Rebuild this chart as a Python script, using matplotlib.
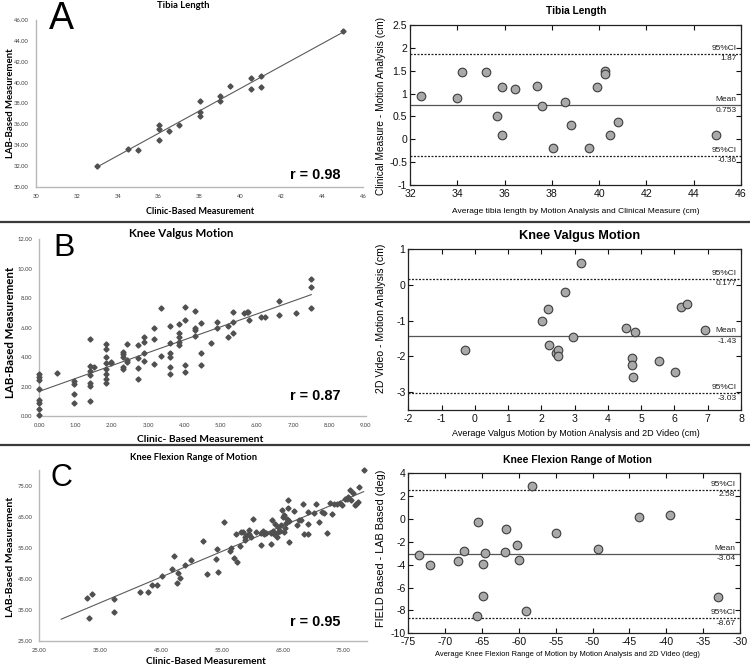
import numpy as np
import matplotlib
matplotlib.use('Agg')
import matplotlib.pyplot as plt
from matplotlib.lines import Line2D
from matplotlib.ticker import FuncFormatter, FixedLocator
from matplotlib import font_manager

plt.rcParams['axes.unicode_minus'] = False

# ------------------------------------------------------------------ data
# Panel A - Tibia length (scatter)
tibia_clinic = [33.0, 34.5, 35.0, 36.0, 36.0, 36.0, 36.5, 37.0, 38.0, 38.0, 38.0,
                39.0, 39.0, 39.5, 40.5, 40.5, 41.0, 41.0, 45.0]
tibia_lab = [32.0, 33.6, 33.5, 35.9, 35.5, 34.5, 35.3, 35.9, 38.2, 37.2, 36.8,
             38.7, 38.2, 39.7, 40.4, 39.4, 40.6, 39.6, 44.9]
tibia_r = 0.98

# Panel A - Tibia length (Bland-Altman)
tibia_avg = [32.46, 33.99, 34.22, 35.23, 35.70, 35.88, 35.88, 36.42, 37.37, 37.60,
             38.06, 38.55, 38.82, 39.57, 39.91, 40.23, 40.23, 40.44, 40.79, 44.94]
tibia_diff = [0.94, 0.91, 1.47, 1.47, 0.50, 1.14, 0.10, 1.09, 1.17, 0.73,
              -0.20, 0.82, 0.31, -0.20, 1.14, 1.49, 1.43, 0.09, 0.37, 0.10]
tibia_mean, tibia_lo, tibia_hi = 0.753, -0.36, 1.87

# Panel B - Knee valgus motion (scatter)
valgus_clinic = [0, 0, 0, 0, 0, 0, 0, 0,
                 0.5,
                 0.95, 0.95, 0.95, 0.95,
                 1.4, 1.4, 1.4, 1.4, 1.4, 1.4, 1.4, 1.5,
                 1.85, 1.85, 1.85, 1.85, 1.85, 1.85, 1.85, 1.85,
                 1.97, 1.97,
                 2.3, 2.3, 2.3, 2.3, 2.3,
                 2.42, 2.42, 2.42,
                 2.72, 2.72, 2.72, 2.72,
                 2.9, 2.9, 2.9, 2.9,
                 3.15, 3.15, 3.15,
                 3.35, 3.35,
                 3.6, 3.6, 3.6, 3.6, 3.6, 3.6,
                 3.85, 3.85, 3.85, 3.85, 3.85,
                 4.02, 4.02, 4.02, 4.02,
                 4.28, 4.28, 4.28, 4.28,
                 4.47, 4.47, 4.47,
                 4.73,
                 4.89, 4.89,
                 5.19, 5.19,
                 5.35, 5.35, 5.35,
                 5.65, 5.72, 5.76, 5.78,
                 6.11, 6.22,
                 6.62, 6.62,
                 7.08,
                 7.5, 7.5, 7.5]
valgus_lab = [2.85, 2.65, 2.45, 1.8, 1.1, 0.9, 0.5, 0.05,
              2.95,
              2.4, 2.2, 1.5, 0.9,
              5.25, 3.42, 3.06, 2.76, 2.26, 2.04, 1.0, 3.3,
              4.87, 4.53, 3.99, 3.58, 3.19, 2.83, 2.49, 2.26,
              3.7, 3.6,
              4.35, 4.2, 4.0, 3.35, 3.2,
              4.87, 3.82, 3.68,
              4.85, 3.95, 3.25, 2.49,
              5.35, 5.05, 4.3, 3.76,
              6.0, 5.25, 3.5,
              7.36, 4.08,
              6.1, 4.95, 4.3, 4.0, 3.35, 2.85,
              6.25, 5.65, 5.35, 5.0, 4.85,
              7.43, 6.52, 3.46, 3.01,
              7.13, 5.95, 5.84, 5.44,
              6.29, 4.3, 3.45,
              4.99,
              6.36, 6.0,
              6.11, 5.39,
              7.09, 6.41, 5.61,
              6.97, 7.09, 7.09, 6.52,
              6.70, 6.70,
              7.79, 6.86,
              6.97,
              9.31, 8.74, 7.31]
valgus_r = 0.87

# Panel B - Knee valgus motion (Bland-Altman)
valgus_avg = [-0.29, 2.01, 2.19, 2.24, 2.44, 2.49, 2.49, 2.71, 2.95, 3.20,
              4.53, 4.73, 4.73, 4.75, 4.81, 5.53, 6.03, 6.21, 6.38, 6.92]
valgus_diff = [-1.82, -1.02, -0.66, -1.68, -1.92, -1.82, -1.99, -0.21, -1.47, 0.61,
               -1.21, -2.06, -2.24, -2.59, -1.33, -2.13, -2.43, -0.61, -0.54, -1.26]
valgus_mean, valgus_lo, valgus_hi = -1.43, -3.03, 0.177

# Panel C - Knee flexion range of motion (scatter)
flex_clinic = [32.9, 33.6, 33.2, 37.2, 37.3, 41.6, 42.8, 43.5, 44.3, 45.1, 46.8, 47.1,
               47.8, 47.6, 48.2, 49.0, 49.9,
               51.9, 52.5, 54.2, 54.3, 54.0, 55.3, 56.3, 56.5, 57.0, 57.5, 57.9, 57.3,
               58.1, 58.4, 58.8, 58.8, 59.2, 59.5, 59.5, 59.8, 60.1, 60.6, 61.5, 61.5,
               61.8, 61.9, 62.3, 63.0, 63.1, 63.3, 63.4, 63.6, 63.8, 64.0, 64.2, 64.2,
               64.6, 64.7, 64.9, 65.0, 65.2, 65.2, 65.3, 65.5, 65.8, 65.8, 66.0, 65.7,
               66.0, 66.9, 67.4, 67.7, 68.0, 68.3, 68.5, 69.1, 69.2, 69.1, 70.1, 70.5,
               70.9, 71.4, 71.8, 72.2, 72.8, 73.1, 73.5, 73.9,
               74.45, 74.7, 75.2, 75.6, 75.8, 76.1, 76.3, 76.5, 76.8, 77.0, 77.4, 77.6,
               78.3]
flex_lab = [38.6, 40.1, 32.2, 38.5, 34.2, 40.8, 40.8, 43.0, 43.0, 46.0, 48.1, 52.2,
            46.8, 43.6, 45.2, 49.3, 51.1,
            57.0, 46.5, 54.4, 47.2, 51.4, 63.3, 53.8, 54.9, 51.8, 50.4, 55.4, 59.5,
            60.0, 60.0, 57.3, 58.5, 58.9, 59.3, 60.6, 58.4, 64.2, 60.0, 55.7, 59.8,
            60.5, 59.3, 59.8, 56.0, 59.8, 63.8, 60.5, 59.4, 62.7, 58.4, 61.6, 60.0,
            60.5, 62.2, 67.0, 64.8, 65.4, 60.0, 61.4, 62.9, 70.2, 67.7, 56.8, 64.3,
            63.5, 66.8, 62.3, 64.0, 63.9, 69.2, 59.5, 59.5, 66.6, 62.5, 66.3, 68.9,
            63.4, 66.4, 66.1, 59.7, 69.5, 65.9, 69.1, 69.1,
            69.5, 68.7, 70.6, 70.8, 71.3, 73.6, 70.4, 72.5, 68.7, 69.1, 69.8, 74.4,
            80.0]
flex_r = 0.95

# Panel C - Knee flexion range of motion (Bland-Altman)
flex_avg = [-73.57, -72.10, -68.32, -67.38, -65.51, -65.64, -64.88, -64.80, -64.62, -61.90,
            -61.72, -60.21, -59.94, -59.09, -58.20, -54.95, -49.29, -43.72, -39.53, -33.02]
flex_diff = [-3.14, -4.02, -3.64, -2.82, -0.26, -8.45, -3.96, -6.73, -2.94, -2.88,
             -0.90, -2.24, -3.55, -8.01, 2.92, -1.25, -2.59, 0.21, 0.33, -6.79]
flex_mean, flex_lo, flex_hi = -3.04, -8.67, 2.58

# ------------------------------------------------------------------ fonts
avail = {f.name for f in font_manager.fontManager.ttflist}
NARROW = ['Liberation Sans Narrow', 'Liberation Sans', 'DejaVu Sans'] \
    if 'Liberation Sans Narrow' in avail else ['Liberation Sans', 'DejaVu Sans']
EXCEL = ['Lato', 'DejaVu Sans']
ARIAL = ['Liberation Sans', 'DejaVu Sans']

# ------------------------------------------------------------------ figure
W, H = 750, 669
fig = plt.figure(figsize=(W / 100, H / 100), dpi=100)
fig.patch.set_facecolor('white')

to_fit = []


def ax_px(x0, x1, ytop, ybot):
    return fig.add_axes([x0 / W, 1 - ybot / H, (x1 - x0) / W, (ybot - ytop) / H])


def ftext(x, y, s, target=None, rot=0, **kw):
    t = fig.text(x / W, 1 - y / H, s, ha='center', va='center', rotation=rot, **kw)
    if target:
        to_fit.append((t, target, rot))
    return t


def ticks(lo, hi, step):
    """Ticks at multiples of step inside [lo, hi] (MATLAB style)."""
    start = np.ceil(lo / step - 1e-9) * step
    return np.arange(start, hi + step * 0.01, step) + 0.0


def xl_ticks(lo, hi, step):
    """Ticks starting at the axis minimum (Excel style)."""
    return np.arange(lo, hi + step * 0.01, step) + 0.0


def excel_scatter(pos, x, y, xlim, ylim, xt, yt, xfmt, yfmt, backcast=0.0):
    ax = ax_px(*pos)
    x = np.asarray(x, float)
    y = np.asarray(y, float)
    coef = np.polyfit(x, y, 1)
    xs = np.array([x.min() - backcast, x.max()])
    ax.plot(xs, np.polyval(coef, xs), color='#5a5a5a', lw=0.8, zorder=2)
    ax.plot(x, y, 'D', ms=2.6, color='#505050', mec='#505050', zorder=3, clip_on=False)
    ax.set_xlim(*xlim)
    ax.set_ylim(*ylim)
    ax.xaxis.set_major_locator(FixedLocator(xt))
    ax.yaxis.set_major_locator(FixedLocator(yt))
    ax.xaxis.set_major_formatter(FuncFormatter(lambda v, p: format(v + 0.0, xfmt)))
    ax.yaxis.set_major_formatter(FuncFormatter(lambda v, p: format(v + 0.0, yfmt)))
    for s in ('top', 'right'):
        ax.spines[s].set_visible(False)
    for s in ('left', 'bottom'):
        ax.spines[s].set_color('#b8b8b8')
        ax.spines[s].set_linewidth(1.0)
    ax.tick_params(length=0, labelsize=4.2, labelcolor='#404040', pad=5)
    for lab in ax.get_xticklabels() + ax.get_yticklabels():
        lab.set_family(EXCEL)
    ax.patch.set_alpha(0)
    return ax


def gfmt(v, p):
    return '%g' % (round(v, 6) + 0.0)


def bland_altman(pos, x, y, mean, lo, hi, xlim, ylim, xstep, ystep):
    ax = ax_px(*pos)
    ax.axhline(mean, color='#555555', lw=0.9, zorder=2)
    for v in (lo, hi):
        ax.axhline(v, color='#222222', lw=0.9, ls=(0, (1.6, 1.2)), zorder=2)
    ax.plot(x, y, 'o', ms=6.2, mfc='#a9a9a9', mec='#3c3c3c', mew=0.8, zorder=3)
    ax.set_xlim(*xlim)
    ax.set_ylim(*ylim)
    ax.xaxis.set_major_locator(FixedLocator(ticks(xlim[0], xlim[1], xstep)))
    ax.yaxis.set_major_locator(FixedLocator(ticks(ylim[0], ylim[1], ystep)))
    ax.xaxis.set_major_formatter(FuncFormatter(gfmt))
    ax.yaxis.set_major_formatter(FuncFormatter(gfmt))
    ax.tick_params(direction='in', length=3.5, width=0.8, top=True, right=True,
                   labelsize=7.6, colors='#111111')
    ax.tick_params(axis='x', pad=3)
    ax.tick_params(axis='y', pad=2)
    for lab in ax.get_xticklabels() + ax.get_yticklabels():
        lab.set_family(NARROW)
    for s in ax.spines.values():
        s.set_linewidth(0.9)
        s.set_color('#222222')
    fs = 6.0
    for v, top in ((hi, '95%CI'), (mean, 'Mean'), (lo, '95%CI')):
        ax.annotate(top, xy=(0.986, v), xycoords=('axes fraction', 'data'),
                    xytext=(0, 1.2), textcoords='offset points', ha='right',
                    va='bottom', fontsize=fs, family=NARROW, color='#222222')
        ax.annotate('%g' % v, xy=(0.986, v), xycoords=('axes fraction', 'data'),
                    xytext=(0, -1.2), textcoords='offset points', ha='right',
                    va='top', fontsize=fs, family=NARROW, color='#222222')
    return ax


# ---------------- Panel A
excel_scatter((36, 363, 20, 186.7), tibia_clinic, tibia_lab, (30, 46), (30, 46),
              xl_ticks(30, 46, 2), xl_ticks(30, 46, 2), '.0f', '.2f')
ftext(183, 6, 'Tibia Length', 53, fontsize=7, fontweight='bold', family=EXCEL)
ftext(11, 103, 'LAB-Based Measurement', 110, rot=90, fontsize=8, fontweight='bold', family=EXCEL)
ftext(200, 211, 'Clinic-Based Measurement', 108, fontsize=8, fontweight='bold', family=EXCEL)
ftext(61, 19, 'A', fontsize=27, family=ARIAL)
ftext(315, 175, 'r = %.2f' % tibia_r, 51, fontsize=10, fontweight='bold', family=ARIAL)

bland_altman((410, 741, 25, 185), tibia_avg, tibia_diff, tibia_mean, tibia_lo, tibia_hi,
             (32, 46), (-1, 2.5), 2, 0.5)
ftext(576, 11.5, 'Tibia Length', 60, fontsize=9, fontweight='bold', family=NARROW)
ftext(381, 106, 'Clinical Measure - Motion Analysis (cm)', 178, rot=90, fontsize=7, family=NARROW)
ftext(576, 212, 'Average tibia length by Motion Analysis and Clinical Measure (cm)', 247,
      fontsize=7, family=NARROW)

# ---------------- Panel B
excel_scatter((39.3, 365.7, 239.3, 416), valgus_clinic, valgus_lab, (0, 9), (0, 12),
              xl_ticks(0, 9, 1), xl_ticks(0, 12, 2), '.2f', '.2f')
ftext(181, 233, 'Knee Valgus Motion', 105, fontsize=7, fontweight='bold', family=EXCEL)
ftext(11, 332, 'LAB-Based Measurement', 132, rot=90, fontsize=8, fontweight='bold', family=EXCEL)
ftext(200, 439, 'Clinic- Based Measurement', 127, fontsize=8, fontweight='bold', family=EXCEL)
ftext(64, 248, 'B', fontsize=23, family=ARIAL)
ftext(315, 396, 'r = %.2f' % valgus_r, 51, fontsize=10, fontweight='bold', family=ARIAL)

bland_altman((408.3, 741, 249.3, 409.8), valgus_avg, valgus_diff, valgus_mean,
             valgus_lo, valgus_hi, (-2, 8), (-3.5, 1), 1, 1)
ftext(580, 235.5, 'Knee Valgus Motion', 121, fontsize=9, fontweight='bold', family=NARROW)
ftext(381, 318, '2D Video - Motion Analysis (cm)', 150, rot=90, fontsize=7, family=NARROW)
ftext(576, 433, 'Average Valgus Motion by Motion Analysis and 2D Video (cm)', 248,
      fontsize=7, family=NARROW)

# ---------------- Panel C
excel_scatter((39.3, 366.7, 470, 640.7), flex_clinic, flex_lab, (25, 78.8), (25, 80.0),
              xl_ticks(25, 75, 10), xl_ticks(25, 75, 10), '.2f', '.2f', backcast=4.3)
ftext(194, 457, 'Knee Flexion Range of Motion', 129, fontsize=7, fontweight='bold', family=EXCEL)
ftext(11, 557, 'LAB-Based Measurement', 120, rot=90, fontsize=8, fontweight='bold', family=EXCEL)
ftext(206, 662, 'Clinic-Based Measurement', 121, fontsize=8, fontweight='bold', family=EXCEL)
ftext(61, 478, 'C', fontsize=22, family=ARIAL)
ftext(315, 622, 'r = %.2f' % flex_r, 51, fontsize=10, fontweight='bold', family=ARIAL)

bland_altman((408.3, 740, 473.3, 633.3), flex_avg, flex_diff, flex_mean, flex_lo, flex_hi,
             (-75, -30), (-10, 4), 5, 2)
ftext(577, 460, 'Knee Flexion Range of Motion', 149, fontsize=9, fontweight='bold', family=NARROW)
ftext(381, 548, 'FIELD Based - LAB Based (deg)', 157, rot=90, fontsize=7, family=NARROW)
ftext(567, 655, 'Average Knee Flexion Range of Motion by Motion Analysis and 2D Video (deg)', 262,
      fontsize=7, family=NARROW)

# ---------------- separators
for ysep in (222, 444.5):
    fig.add_artist(Line2D([0, 1], [1 - ysep / H] * 2, transform=fig.transFigure,
                          color='#3a3a3a', lw=1.6))

# fit text widths
renderer = fig.canvas.get_renderer()
for t, target, rot in to_fit:
    bb = t.get_window_extent(renderer)
    cur = bb.height if rot == 90 else bb.width
    if cur > 0:
        t.set_fontsize(t.get_fontsize() * target / cur)

fig.savefig('out.png', dpi=100, facecolor='white')
